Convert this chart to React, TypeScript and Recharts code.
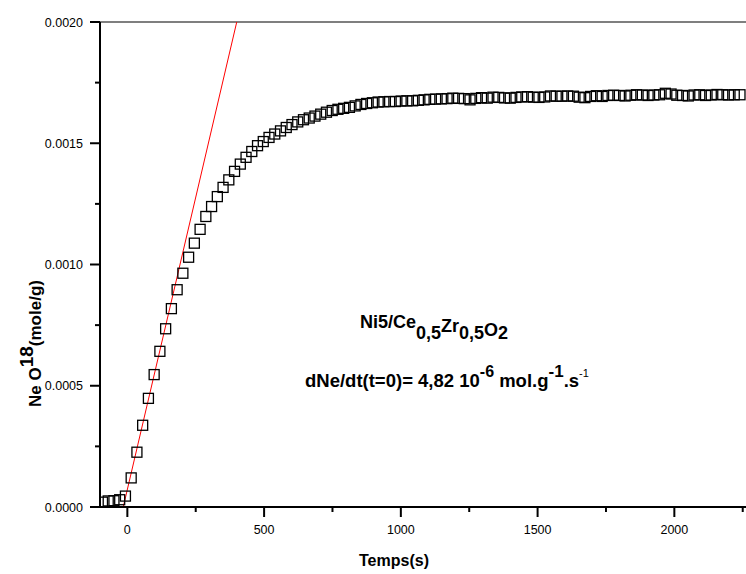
import { ComposedChart, Scatter, Line, XAxis, YAxis, ReferenceLine } from "recharts";

const times = [
  -91, -70, -49, -28, -7, 14, 35, 56, 77, 98,
  119, 140, 161, 182, 203, 224, 245, 266, 287, 308,
  329, 350, 371, 392, 413, 434, 455, 476, 497, 518,
  539, 560, 581, 602, 623, 644, 665, 686, 707, 728,
  749, 770, 791, 812, 833, 854, 875, 896, 917, 938,
  959, 980, 1001, 1022, 1043, 1064, 1085, 1106, 1127, 1148,
  1169, 1190, 1211, 1232, 1253, 1274, 1295, 1316, 1337, 1358,
  1379, 1400, 1421, 1442, 1463, 1484, 1505, 1526, 1547, 1568,
  1589, 1610, 1631, 1652, 1673, 1694, 1715, 1736, 1757, 1778,
  1799, 1820, 1841, 1862, 1883, 1904, 1925, 1946, 1967, 1988,
  2009, 2030, 2051, 2072, 2093, 2114, 2135, 2156, 2177, 2198,
  2219, 2240,
];
const neO18 = [
  0.00002, 0.000025, 0.000026, 0.00003, 0.000045, 0.00012, 0.000226, 0.000337, 0.000448, 0.000546,
  0.000642, 0.000735, 0.000818, 0.000896, 0.000964, 0.00103, 0.001088, 0.001145, 0.001198, 0.001239,
  0.00128, 0.001318, 0.001349, 0.001384, 0.001414, 0.001442, 0.001466, 0.00149, 0.001507, 0.001524,
  0.001538, 0.001551, 0.001565, 0.001577, 0.001588, 0.001597, 0.001604, 0.001612, 0.00162, 0.001628,
  0.001635, 0.00164, 0.001644, 0.001648, 0.001654, 0.00166, 0.001664, 0.001667, 0.00167, 0.001671,
  0.001672, 0.001672, 0.001674, 0.001675, 0.001675, 0.001677, 0.001679, 0.001681, 0.001682, 0.001683,
  0.001684, 0.001686, 0.001685, 0.001684, 0.001679, 0.001685, 0.001688, 0.001686, 0.00169, 0.001689,
  0.001687, 0.001686, 0.001689, 0.001691, 0.001692, 0.00169, 0.001689, 0.001691, 0.001695, 0.001694,
  0.001694, 0.001695, 0.001694, 0.00169, 0.001688, 0.001693, 0.001696, 0.001693, 0.001697, 0.001698,
  0.001697, 0.001695, 0.001698, 0.0017, 0.001699, 0.001697, 0.001699, 0.0017, 0.001706, 0.001703,
  0.001698, 0.001697, 0.001695, 0.001699, 0.0017, 0.001697, 0.001699, 0.001701, 0.0017, 0.001699,
  0.0017, 0.0017,
];

// initial-rate fit: dNe/dt(t=0) = 4,82e-6
const fitTimes = [-15, 400];
const fitValues = [0, 0.002];

const xTicks = [0, 250, 500, 750, 1000, 1250, 1500, 1750, 2000, 2250];
const yTicks = [0, 0.00025, 0.0005, 0.00075, 0.001, 0.00125, 0.0015, 0.00175, 0.002];

const points = times.map((t, i) => ({ t, y: neO18[i] }));
const fit = fitTimes.map((t, i) => ({ t, y: fitValues[i] }));

const font = '"Liberation Sans", Arial, sans-serif';

const isMajorX = (v: number) => v % 500 === 0;
const isMajorY = (v: number) => Math.round(v / 0.00025) % 2 === 0;

// major ticks long + labelled, minor ticks short
function XTick({ x, y, payload }: any) {
  const major = isMajorX(payload.value);
  return (
    <g>
      <path d={`M${x},${y} V${y + (major ? 10 : 5)}`} stroke="#000" strokeWidth={2} fill="none" />
      {major ? (
        <text x={x} y={y + 27} textAnchor="middle" fontSize={12.5} fontFamily={font} fill="#000">
          {payload.value}
        </text>
      ) : null}
    </g>
  );
}

function YTick({ x, y, payload }: any) {
  const major = isMajorY(payload.value);
  return (
    <g>
      <path d={`M${x},${y} H${x - (major ? 10 : 5)}`} stroke="#000" strokeWidth={2} fill="none" />
      {major ? (
        <text x={x - 17} y={y + 4.5} textAnchor="end" fontSize={12.5} fontFamily={font} fill="#000">
          {payload.value.toFixed(4)}
        </text>
      ) : null}
    </g>
  );
}

const squareShape = (p: any) => (
  <rect x={p.cx - 5} y={p.cy - 5} width={10} height={10} fill="none" stroke="#000" strokeWidth={1.3} />
);

export default function App() {
  return (
    <div style={{ position: "absolute", left: 0, top: 0, width: 746, height: 574, background: "#fff" }}>
      <ComposedChart
        width={746}
        height={574}
        data={points}
        margin={{ top: 22, right: 0, bottom: 0, left: 0 }}
      >
        <XAxis
          type="number"
          dataKey="t"
          domain={[-100, 2262]}
          allowDataOverflow
          ticks={xTicks}
          interval={0}
          tick={<XTick />}
          tickLine={false}
          tickSize={0}
          tickMargin={0}
          height={67}
          axisLine={{ stroke: "#000", strokeWidth: 2 }}
        />
        <YAxis
          type="number"
          dataKey="y"
          domain={[0, 0.002]}
          allowDataOverflow
          ticks={yTicks}
          interval={0}
          tick={<YTick />}
          tickLine={false}
          tickSize={0}
          tickMargin={0}
          width={100}
          axisLine={{ stroke: "#000", strokeWidth: 2 }}
        />
        <ReferenceLine y={0.002} stroke="#000" strokeWidth={1.2} />
        <Scatter data={points} dataKey="y" shape={squareShape} isAnimationActive={false} />
        <Line
          data={fit}
          dataKey="y"
          type="linear"
          stroke="#ff0000"
          strokeWidth={1}
          dot={false}
          activeDot={false}
          isAnimationActive={false}
        />
      </ComposedChart>
      <svg
        width={746}
        height={574}
        style={{ position: "absolute", left: 0, top: 0, pointerEvents: "none" }}
        fontFamily={font}
        fontWeight="bold"
        fill="#000"
      >
        <text x={394} y={566} textAnchor="middle" fontSize={16}>
          Temps(s)
        </text>
        <text transform="translate(41,407) rotate(-90)" fontSize={17}>
          Ne O
          <tspan dy={-8} fontSize={19}>18</tspan>
          <tspan dy={8}>(mole/g)</tspan>
        </text>
        <text x={360} y={328} fontSize={18}>
          Ni5/Ce
          <tspan dy={11}>0,5</tspan>
          <tspan dy={-7}>Zr</tspan>
          <tspan dy={7}>0,5</tspan>
          <tspan dy={-3}>O</tspan>
          <tspan dy={3}>2</tspan>
        </text>
        <text x={305} y={387} fontSize={18.5}>
          dNe/dt(t=0)= 4,82 10
          <tspan dy={-10} fontSize={16}>-6</tspan>
          <tspan dy={10}> mol.g</tspan>
          <tspan dy={-10} fontSize={17}>-1</tspan>
          <tspan dy={10}>.s</tspan>
          <tspan dy={-10} fontSize={11} fontWeight="normal">-1</tspan>
        </text>
      </svg>
    </div>
  );
}
